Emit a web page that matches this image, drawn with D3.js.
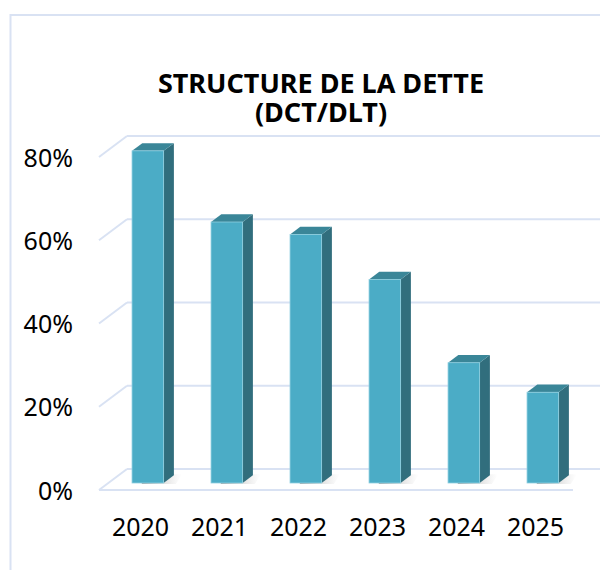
<!DOCTYPE html>
<html>
<head>
<meta charset="utf-8">
<script src="https://cdn.jsdelivr.net/npm/d3@7"></script>
<style>
  body { margin: 0; background: #fff; }
  text { font-family: "Noto Sans", "Open Sans", sans-serif; fill: #000; }
</style>
</head>
<body>
<div id="chart"></div>
<script>
// data
var years = ["2020", "2021", "2022", "2023", "2024", "2025"];
var ratios = [0.798, 0.627, 0.597, 0.489, 0.289, 0.218];
var tickValues = [0, 0.2, 0.4, 0.6, 0.8];
var titleLines = ["STRUCTURE DE LA DETTE", "(DCT/DLT)"];

var width = 600, height = 570;

// front plane of the floor and the 3D depth vector
var plotLeft = 99, plotRight = 573, plotBottom = 490, plotTop = 157;
var depth = [28, -21];
var f0 = 1 / 3, f1 = 0.7;   // where the bars sit inside the depth

var gridColor = "#d9e2f3";

var svg = d3.select("#chart")
  .append("svg")
    .attr("width", width)
    .attr("height", height);

// chart border
svg.append("rect")
  .attr("x", 10.5).attr("y", 15)
  .attr("width", 620).attr("height", 600)
  .attr("fill", "none")
  .attr("stroke", gridColor)
  .attr("stroke-width", 2);

var x = d3.scaleBand()
  .domain(years)
  .range([plotLeft, plotRight])
  .paddingInner(0.6)
  .paddingOuter(0.3);

var y = d3.scaleLinear()
  .domain([0, 0.8])
  .range([plotBottom, plotTop]);

// back wall gridlines + side wall diagonals
var grid = svg.append("g");
tickValues.forEach(function(t) {
  grid.append("line")
    .attr("x1", plotLeft + depth[0]).attr("x2", 602)
    .attr("y1", y(t) + depth[1]).attr("y2", y(t) + depth[1])
    .attr("stroke", gridColor).attr("stroke-width", 2);
  grid.append("line")
    .attr("x1", plotLeft).attr("x2", plotLeft + depth[0])
    .attr("y1", y(t)).attr("y2", y(t) + depth[1])
    .attr("stroke", gridColor).attr("stroke-width", 2);
});
// floor front edge
grid.append("line")
  .attr("x1", plotLeft).attr("x2", plotRight)
  .attr("y1", plotBottom).attr("y2", plotBottom)
  .attr("stroke", gridColor).attr("stroke-width", 2);

// shadow gradient
var defs = svg.append("defs");
var sg = defs.append("linearGradient").attr("id", "shadow")
  .attr("x1", "0").attr("x2", "1").attr("y1", "0").attr("y2", "0");
sg.append("stop").attr("offset", "0").attr("stop-color", "#777").attr("stop-opacity", 0.7);
sg.append("stop").attr("offset", "1").attr("stop-color", "#bbb").attr("stop-opacity", 0);

var dx = (f1 - f0) * depth[0], dy = (f1 - f0) * depth[1];
var ox = f0 * depth[0], oy = f0 * depth[1];
var bw = x.bandwidth();

var bars = svg.selectAll(".bar")
  .data(ratios)
  .enter().append("g")
    .attr("class", "bar");

// soft shadow on the floor
bars.append("polygon")
  .attr("points", function(d, i) {
    var xl = x(years[i]) + ox + bw * 0.3, xr = x(years[i]) + ox + bw + dx + 8;
    var yb = y(0) + oy;
    return [[xl, yb + 1], [xr - 6, yb + 1], [xr, yb + dy - 1], [xl + 6, yb + dy - 1]].join(" ");
  })
  .attr("fill", "url(#shadow)");

// side face
bars.append("polygon")
  .attr("points", function(d, i) {
    var xr = x(years[i]) + ox + bw, yt = y(d) + oy, yb = y(0) + oy;
    return [[xr, yt], [xr + dx, yt + dy], [xr + dx, yb + dy], [xr, yb]].join(" ");
  })
  .attr("fill", "#316e7d");

// top face
bars.append("polygon")
  .attr("points", function(d, i) {
    var xl = x(years[i]) + ox, xr = xl + bw, yt = y(d) + oy;
    return [[xl, yt], [xr, yt], [xr + dx, yt + dy], [xl + dx, yt + dy]].join(" ");
  })
  .attr("fill", "#3a8698");

// front face
bars.append("rect")
  .attr("x", function(d, i) { return x(years[i]) + ox; })
  .attr("y", function(d) { return y(d) + oy; })
  .attr("width", bw)
  .attr("height", function(d) { return y(0) - y(d); })
  .attr("fill", "#4bacc6")
  .attr("stroke", "#8ecfe0")
  .attr("stroke-width", 0.8);

// Y axis labels
var yAxis = d3.axisLeft(y)
  .tickValues(tickValues)
  .tickSize(0)
  .tickPadding(0)
  .tickFormat(d3.format(".0%"));

svg.append("g")
  .attr("transform", "translate(73,1)")
  .call(yAxis)
  .call(function(g) { g.select(".domain").remove(); })
  .selectAll("text")
    .style("font-family", "'Noto Sans', sans-serif")
    .style("font-size", "25px")
    .attr("fill", "#000");

// X axis labels
var xAxis = d3.axisBottom(x)
  .tickSize(0)
  .tickPadding(0);

svg.append("g")
  .attr("transform", "translate(2,518)")
  .call(xAxis)
  .call(function(g) { g.select(".domain").remove(); })
  .selectAll("text")
    .attr("dy", "0.71em")
    .style("font-family", "'Noto Sans', sans-serif")
    .style("font-size", "25px")
    .attr("fill", "#000");

// title
svg.selectAll(".title")
  .data(titleLines)
  .enter().append("text")
    .attr("class", "title")
    .attr("x", 321)
    .attr("y", function(d, i) { return 93 + i * 28.5; })
    .attr("text-anchor", "middle")
    .style("font-size", "27px")
    .style("font-weight", "bold")
    .text(function(d) { return d; });
</script>
</body>
</html>
